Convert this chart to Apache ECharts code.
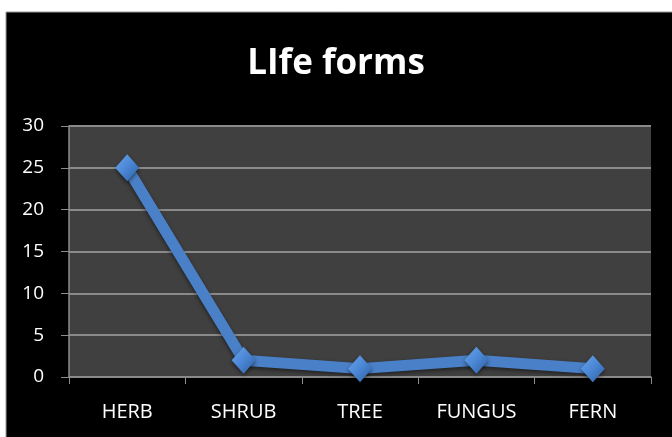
<!DOCTYPE html>
<html><head><meta charset="utf-8">
<script src="https://cdn.jsdelivr.net/npm/echarts@6/dist/echarts.min.js"></script>
<style>html,body{margin:0;padding:0;background:#fff}#c{width:672px;height:437px}</style>
</head><body><div id="c"></div>
<script>
const categories = ['HERB', 'SHRUB', 'TREE', 'FUNGUS', 'FERN'];
const values = [25, 2, 1, 2, 1];
const yTicks = { min: 0, max: 30, interval: 5 };
const titleText = 'LIfe forms';

const chart = echarts.init(document.getElementById('c'));
chart.setOption({
  backgroundColor: '#ffffff',
  animation: false,
  graphic: [{
    type: 'rect', z: -10, silent: true,
    shape: { x: 6, y: 12, width: 670, height: 430 },
    style: { fill: '#000000', stroke: '#9a9a9a', lineWidth: 1 }
  }],
  title: {
    text: titleText, left: 'center', top: 42,
    textStyle: { color: '#ffffff', fontSize: 35, fontWeight: 'bold', fontFamily: 'Open Sans' }
  },
  grid: { left: 69, right: 21, top: 126, bottom: 60, show: true, backgroundColor: '#404040', borderWidth: 0 },
  xAxis: {
    type: 'category', data: categories, boundaryGap: true,
    axisLine: { lineStyle: { color: '#8c8c8c', width: 1.5 } },
    axisTick: { show: true, length: 7, lineStyle: { color: '#8c8c8c' } },
    axisLabel: { color: '#ffffff', fontSize: 20, margin: 25, fontFamily: 'Open Sans' }
  },
  yAxis: {
    type: 'value', min: yTicks.min, max: yTicks.max, interval: yTicks.interval,
    axisLine: { show: true, lineStyle: { color: '#8c8c8c', width: 1.5 } },
    axisTick: { show: true, length: 8, lineStyle: { color: '#8c8c8c' } },
    splitLine: { lineStyle: { color: '#8a8a8a', width: 2 } },
    axisLabel: { color: '#ffffff', fontSize: 19, margin: 25, fontFamily: 'Open Sans' }
  },
  series: [{
    type: 'line', data: values,
    symbol: 'diamond', symbolSize: [24, 27],
    lineStyle: { color: '#4a80c8', width: 11, shadowColor: 'rgba(0,0,0,0.5)', shadowBlur: 4, shadowOffsetY: 2 },
    itemStyle: {
      color: new echarts.graphic.LinearGradient(0, 0, 1, 1, [
        { offset: 0, color: '#6aa4ec' }, { offset: 0.5, color: '#4a86d4' }, { offset: 1, color: '#2d5f9e' }
      ]),
      shadowColor: 'rgba(0,0,0,0.5)', shadowBlur: 4, shadowOffsetY: 2
    }
  }]
});
</script></body></html>
